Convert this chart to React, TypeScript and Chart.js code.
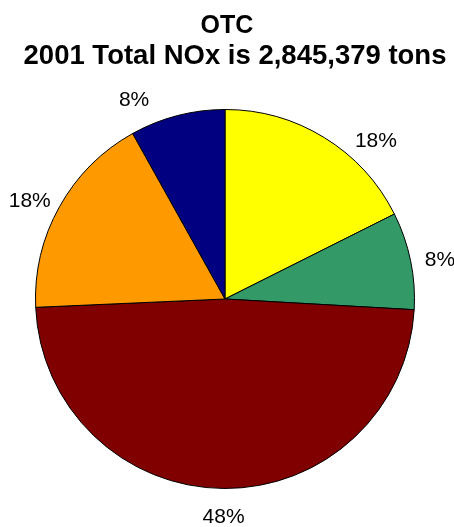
import React, { useEffect, useRef } from "react";
import { Chart, registerables } from "chart.js";

Chart.register(...registerables);

const titleLines = ["OTC", "2001 Total NOx is 2,845,379 tons"];
const categories = ["Yellow", "Green", "Dark red", "Orange", "Navy"];
const shares = [17.6, 8.3, 48.4, 17.6, 8.1];
const sliceColors = ["#FFFF00", "#339966", "#800000", "#FF9900", "#000080"];

const FONT = "'Liberation Sans', Arial, sans-serif";
// small angular nudges (degrees) for label placement, like the original's best-fit labels
const labelNudgeDeg = [12, 1.5, 0, -2.5, -10];

const titlePlugin = {
  id: "twoLineTitle",
  afterDraw(chart: any) {
    const ctx = chart.ctx;
    const cx = chart.width / 2;
    ctx.save();
    ctx.fillStyle = "#000";
    ctx.textAlign = "center";
    ctx.textBaseline = "alphabetic";
    ctx.font = `bold 25px ${FONT}`;
    ctx.fillText(titleLines[0], cx, 33);
    ctx.font = `bold 27.5px ${FONT}`;
    ctx.fillText(titleLines[1], cx + 8, 64);
    ctx.restore();
  },
};

const outsideLabels = {
  id: "outsideLabels",
  afterDatasetsDraw(chart: any) {
    const ctx = chart.ctx;
    const meta = chart.getDatasetMeta(0);
    const total = shares.reduce((a, b) => a + b, 0);
    ctx.save();
    ctx.font = `21px ${FONT}`;
    ctx.fillStyle = "#000";
    ctx.textAlign = "center";
    ctx.textBaseline = "middle";
    meta.data.forEach((arc: any, i: number) => {
      const { x, y, startAngle, endAngle, outerRadius } = arc.getProps(
        ["x", "y", "startAngle", "endAngle", "outerRadius"],
        true
      );
      const mid = (startAngle + endAngle) / 2 + (labelNudgeDeg[i] * Math.PI) / 180;
      const r = outerRadius + 29;
      const lx = x + Math.cos(mid) * r;
      const ly = y + Math.sin(mid) * r;
      ctx.fillText(`${Math.round((shares[i] / total) * 100)}%`, lx, ly);
    });
    ctx.restore();
  },
};

export default function App() {
  const ref = useRef<HTMLCanvasElement>(null);
  useEffect(() => {
    if (!ref.current) return;
    const chart = new Chart(ref.current, {
      type: "pie",
      data: {
        labels: categories,
        datasets: [
          {
            data: shares,
            backgroundColor: sliceColors,
            borderColor: "#000",
            borderWidth: 1,
          },
        ],
      },
      options: {
        responsive: false,
        animation: false,
        layout: { padding: { left: 35, right: 39, top: 109, bottom: 38 } },
        plugins: {
          legend: { display: false },
          tooltip: { enabled: false },
          title: { display: false },
        },
      },
      plugins: [outsideLabels, titlePlugin],
    });
    return () => chart.destroy();
  }, []);
  return (
    <div style={{ position: "fixed", left: 0, top: 0, width: 454, height: 527, background: "#fff" }}>
      <canvas ref={ref} width={454} height={527} />
    </div>
  );
}
